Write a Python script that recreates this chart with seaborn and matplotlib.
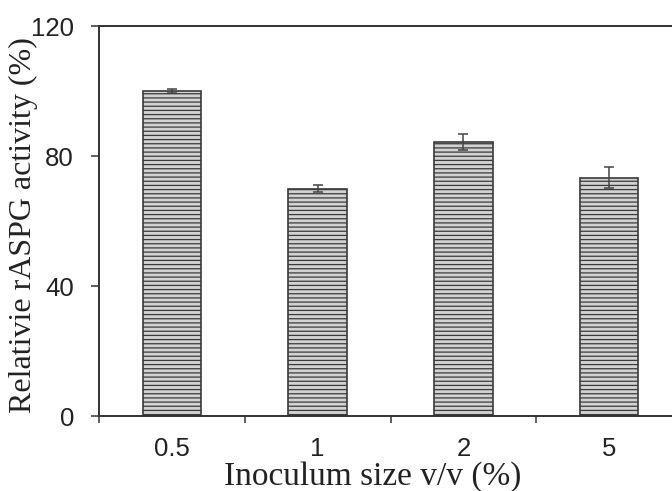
import numpy as np
import matplotlib
matplotlib.use("Agg")
import matplotlib.pyplot as plt
import seaborn as sns

# Datos
inoculum = ["0.5", "1", "2", "5"]
activity = [100, 70, 84.3, 73.3]
activity_err = [0.5, 1.0, 2.5, 3.2]

sns.set_style("white")
plt.rcParams["hatch.color"] = "#a6a6a6"
plt.rcParams["hatch.linewidth"] = 0.9

fig = plt.figure(figsize=(6.72, 4.91), dpi=100)
ax = fig.add_axes([99 / 672, 75 / 491, 583 / 672, 390 / 491])

sns.barplot(
    x=inoculum,
    y=activity,
    color="#d2d2d2",
    edgecolor="#3a3a3a",
    linewidth=1.2,
    width=0.4,
    hatch="----",
    saturation=1,
    ax=ax,
)
ax.errorbar(
    np.arange(len(inoculum)), activity, yerr=activity_err,
    fmt="none", ecolor="#444444", elinewidth=1.1, capsize=3.5, capthick=1.1
)

ax.set_xlim(-0.5, len(inoculum) - 0.5)
ax.set_ylim(0, 120)
ax.set_yticks([0, 40, 80, 120])

# ticks menores entre categorias
ax.set_xticks(np.arange(len(inoculum) + 1) - 0.5, minor=True)
ax.tick_params(axis="x", which="major", length=0, pad=15)
ax.tick_params(axis="x", which="minor", direction="out", length=5, width=1.1,
               color="#333333", bottom=True)
ax.tick_params(axis="y", direction="out", length=6, width=1.1,
               color="#333333", left=True, pad=12)

for lab in ax.get_xticklabels() + ax.get_yticklabels():
    lab.set_fontfamily("Liberation Sans")
    lab.set_fontsize(18.5)
    lab.set_color("#222222")

for side in ["left", "bottom", "top", "right"]:
    ax.spines[side].set_color("#333333")
    ax.spines[side].set_linewidth(1.4)

ax.set_xlabel("Inoculum size v/v (%)", fontfamily="Liberation Serif",
              fontsize=24, color="#222222")
ax.xaxis.set_label_coords(0.47, -0.116)
ax.set_ylabel("Relativie rASPG activity (%)", fontfamily="Liberation Serif",
              fontsize=23, color="#222222")
ax.yaxis.set_label_coords(-0.105, 0.49)

fig.savefig("out.png", dpi=100)
